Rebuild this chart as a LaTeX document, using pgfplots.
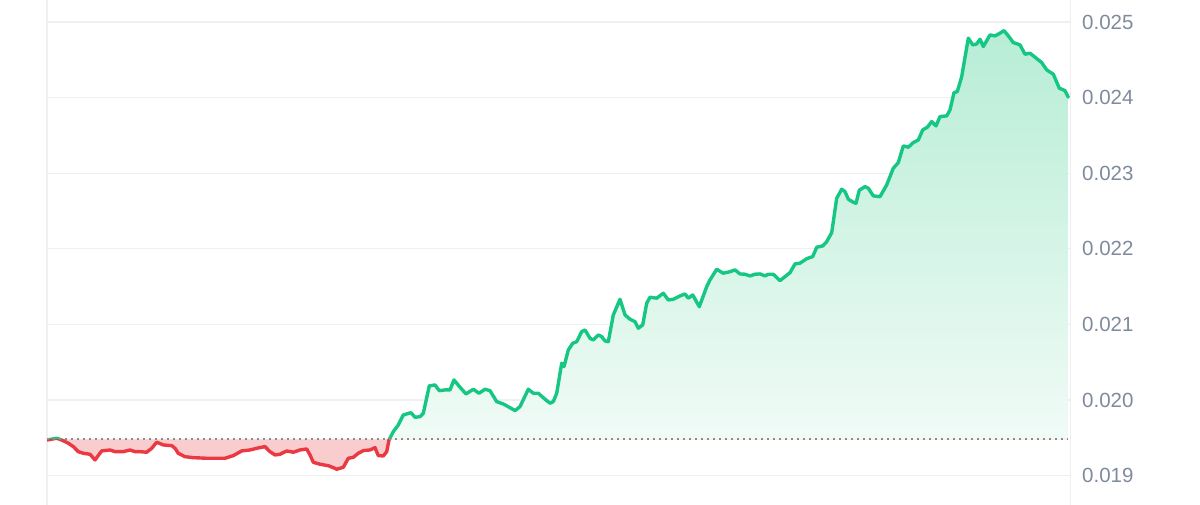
\documentclass[border=0pt]{standalone}
\usepackage{pgfplots}
\usepackage{pgfplotstable}
\pgfplotsset{compat=1.18}
\usepackage{fontspec}
\setmainfont{Liberation Sans}
\definecolor{upgreen}{RGB}{22,199,132}
\definecolor{downred}{RGB}{234,57,67}
\definecolor{redfill}{RGB}{249,204,206}
\definecolor{greentop}{RGB}{183,237,214}
\definecolor{greenbot}{RGB}{245,252,249}
\definecolor{gridgray}{RGB}{238,239,241}
\definecolor{labelgray}{RGB}{128,138,157}
\definecolor{dotgray}{RGB}{140,140,140}

\pgfplotstableread{
x y
0.3 0.019472
9.7 0.019495
14.7 0.019472
21.3 0.019429
26.3 0.019384
31.3 0.019317
36.3 0.019296
43 0.019283
48 0.019208
54.7 0.019327
63 0.019340
68 0.019317
76.3 0.019317
83 0.019340
88 0.019317
93 0.019317
99.7 0.019310
104.7 0.019362
109.7 0.019442
116.3 0.019406
124.7 0.019397
128 0.019362
131.3 0.019296
138 0.019251
146.3 0.019238
159.7 0.019230
178 0.019230
186.3 0.019265
194.7 0.019327
203 0.019340
209.7 0.019362
218 0.019384
223 0.019317
228 0.019274
233 0.019283
239.7 0.019327
246.3 0.019310
253 0.019340
259.7 0.019353
263 0.019274
266.3 0.019177
273 0.019151
281.3 0.019132
286.3 0.019106
289.7 0.019085
296.3 0.019111
301.3 0.019230
306.3 0.019243
311.3 0.019296
316.3 0.019331
323 0.019340
328 0.019370
331.3 0.019265
336.3 0.019261
339.7 0.019317
342 0.019472
346.3 0.019582
351.3 0.019671
356.3 0.019803
359.7 0.019816
364 0.019833
368 0.019772
373 0.019780
376.3 0.019825
382.3 0.020187
388 0.020200
392.3 0.020124
398 0.020134
403 0.020134
407 0.020266
413 0.020169
419 0.020081
426.3 0.020143
432 0.020090
438 0.020143
443 0.020124
449.7 0.019979
456.3 0.019948
463 0.019899
468 0.019860
473 0.019913
481.3 0.020143
486.3 0.020090
491.3 0.020090
498 0.020011
503 0.019958
506.3 0.019979
509.7 0.020090
514.7 0.020487
517 0.020442
521.3 0.020663
525.7 0.020751
529.7 0.020772
534.7 0.020905
538 0.020927
543 0.020817
546.3 0.020795
551.3 0.020861
554.7 0.020839
558 0.020782
561.3 0.020772
566.3 0.021126
573 0.021333
578 0.021126
583 0.021069
588 0.021037
591.3 0.020950
595.7 0.020993
599.7 0.021280
603 0.021360
609.7 0.021347
616.3 0.021413
621.3 0.021324
626.3 0.021333
633 0.021377
638 0.021403
641.3 0.021347
645.7 0.021390
652.3 0.021235
659.7 0.021500
663 0.021589
669.7 0.021730
676.3 0.021677
683 0.021698
688 0.021721
693 0.021668
698 0.021664
703 0.021642
708 0.021664
713 0.021668
718 0.021642
721.3 0.021664
726.3 0.021664
733 0.021579
738 0.021632
743 0.021685
748 0.021800
753 0.021810
759.7 0.021870
765.7 0.021897
769.7 0.022021
775.7 0.022038
779.7 0.022095
784.7 0.022214
789.7 0.022669
794.7 0.022788
798 0.022757
801.3 0.022656
807 0.022611
809 0.022603
812.3 0.022775
818 0.022823
821.3 0.022802
826.3 0.022700
833 0.022690
839.7 0.022845
846.3 0.023066
851.3 0.023140
856.3 0.023361
861.3 0.023344
866.3 0.023405
871.3 0.023440
875.7 0.023573
880.3 0.023608
884.7 0.023683
889 0.023626
893 0.023749
899.7 0.023758
903 0.023837
907 0.024066
910.3 0.024079
914.7 0.024278
921.3 0.024786
925.7 0.024697
929.7 0.024710
933 0.024772
936.3 0.024675
943 0.024829
948 0.024816
953 0.024852
957 0.024886
961.3 0.024816
966.3 0.024728
973 0.024697
978 0.024574
983 0.024587
988 0.024534
994.7 0.024463
999.7 0.024366
1006.3 0.024310
1012.3 0.024124
1018 0.024093
1021.3 0.024005
}\pricedata

\pgfplotstableread{
x y
0.3 0.019481
}\filldata
\pgfplotstableread{
x y
1021.3 0.019481
}\fillend
\pgfplotstablevertcat{\filldata}{\pricedata}
\pgfplotstablevertcat{\filldata}{\fillend}

\pgfplotstableread{
x y
0.3 0.019481
1021.3 0.019481
}\basedata

\begin{document}
\begin{tikzpicture}
\useasboundingbox (0,0) rectangle (1200pt,505pt);
\begin{axis}[
  at={(47pt,0pt)}, anchor=south west,
  scale only axis, width=1023.7pt, height=505pt,
  xmin=0, xmax=1023.7, ymin=0.018612, ymax=0.025291,
  axis line style={draw=none},
  xtick=\empty,
  ytick={0.019,0.020,0.021,0.022,0.023,0.024,0.025},
  scaled y ticks=false,
  ymajorgrids,
  grid style={color=gridgray, line width=1.3pt},
  major tick length=0pt,
  yticklabel pos=right,
  yticklabel style={anchor=west, inner sep=0pt, xshift=11.3pt, text=labelgray,
    font=\fontsize{20.5}{24}\selectfont,
    /pgf/number format/fixed, /pgf/number format/fixed zerofill,
    /pgf/number format/precision=3, /pgf/number format/assume math mode=true},
  clip mode=individual,
]
\draw[gridgray, line width=1.3pt] (rel axis cs:0,0) -- (rel axis cs:0,1);
\draw[gridgray, line width=1.3pt] (rel axis cs:1,0) -- (rel axis cs:1,1);
\begin{scope}
\clip (axis cs:0,0.019481) rectangle (axis cs:1023.7,0.0253);
\addplot[draw=none, top color=greentop, bottom color=greenbot] table[x=x,y=y] {\filldata};
\addplot[upgreen, line width=3.4pt, line join=round, line cap=round, mark=none] table[x=x,y=y] {\pricedata};
\end{scope}
\begin{scope}
\clip (axis cs:0,0.0186) rectangle (axis cs:1023.7,0.019481);
\addplot[draw=none, fill=redfill] table[x=x,y=y] {\filldata};
\addplot[downred, line width=3.4pt, line join=round, line cap=round, mark=none] table[x=x,y=y] {\pricedata};
\end{scope}
\addplot[dotgray, line width=1.6pt, dash pattern=on 1.6pt off 4.4pt, mark=none] table[x=x,y=y] {\basedata};
\end{axis}
\end{tikzpicture}
\end{document}
